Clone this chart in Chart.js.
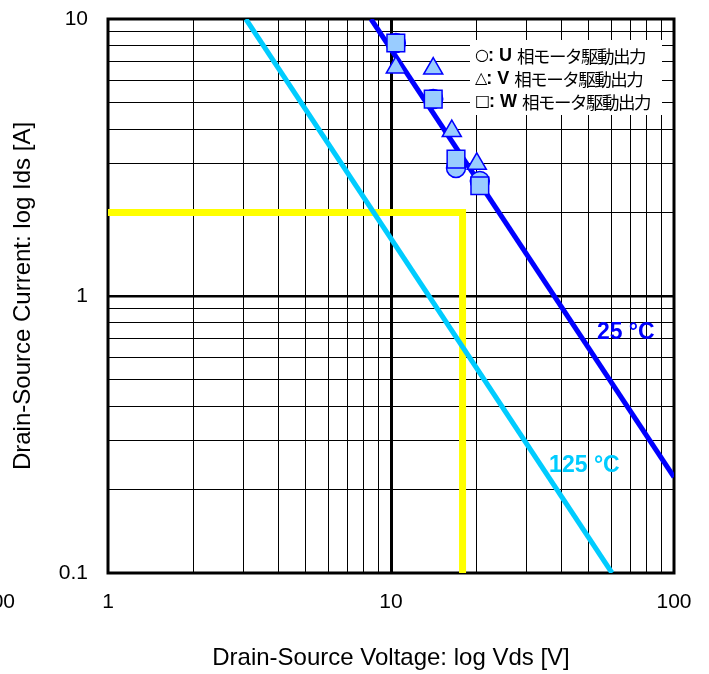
<!DOCTYPE html>
<html>
<head>
<meta charset="utf-8">
<script src="https://cdn.jsdelivr.net/npm/chart.js@4.4.1/dist/chart.umd.min.js"></script>
<style>
  html, body { margin: 0; padding: 0; background: #ffffff; }
  canvas { display: block; }
</style>
</head>
<body>
<canvas id="soa" width="709" height="674"></canvas>
<script>
// Axis decades that carry a label
const xTickLabels = [1, 10, 100];
const yTickLabels = [0.1, 1, 10];

// Measured points per motor-drive output phase: Vds [V], Ids [A]
const uPhaseVds = [10.4, 14.1, 16.97, 20.6];
const uPhaseIds = [8.19, 5.14, 2.90, 2.60];
const vPhaseVds = [10.4, 14.1, 16.4, 20.1];
const vPhaseIds = [6.68, 6.62, 3.94, 3.00];
const wPhaseVds = [10.4, 14.1, 16.97, 20.6];
const wPhaseIds = [8.19, 5.14, 3.12, 2.50];

// Limit lines at 25 °C and 125 °C (end points)
const limit25Vds = [8.50, 100];
const limit25Ids = [10, 0.222];
const limit125Vds = [3.07, 60.4];
const limit125Ids = [10, 0.1];

// Operating point guide: 2 A at 17.9 V
const guideVds = [1, 17.9, 17.9];
const guideIds = [2.0, 2.0, 0.1];

const legendRows = [
  ['○', ': U', '相モータ駆動出力'],
  ['△', ': V', '相モータ駆動出力'],
  ['□', ': W', '相モータ駆動出力']
];

const zip = (xs, ys) => xs.map((x, i) => ({ x: x, y: ys[i] }));

// grid values 1..9 within every labelled decade
function decadeGrid(labels) {
  const out = [];
  for (let i = 0; i < labels.length - 1; i++) {
    for (let k = 1; k <= 9; k++) out.push(Number((labels[i] * k).toPrecision(6)));
  }
  out.push(labels[labels.length - 1]);
  return out;
}
const xGrid = decadeGrid(xTickLabels);
const yGrid = decadeGrid(yTickLabels);

const SANS = '"Liberation Sans", Arial, sans-serif';
const CJK = '"Noto Sans CJK JP", sans-serif';
const SYM = '"DejaVu Sans", sans-serif';

const frame = {
  id: 'frame',
  beforeDatasetsDraw(chart) {
    const a = chart.chartArea, ctx = chart.ctx;
    ctx.save();
    ctx.strokeStyle = '#000';
    ctx.lineWidth = 3;
    ctx.strokeRect(a.left, a.top, a.right - a.left, a.bottom - a.top);
    ctx.restore();
  },
  afterDatasetsDraw(chart) {
    const a = chart.chartArea, ctx = chart.ctx;
    const xs = chart.scales.x, ys = chart.scales.y;
    ctx.save();
    // legend block
    const lx = a.right - 204, ly = a.top + 21;
    ctx.fillStyle = '#fff';
    ctx.fillRect(lx, ly, 192, 75);
    ctx.fillStyle = '#000';
    ctx.textBaseline = 'middle';
    ctx.textAlign = 'left';
    legendRows.forEach((r, i) => {
      let x = lx + 5;
      const y = ly + 16 + i * 23;
      ctx.letterSpacing = '0px';
      ctx.font = '16px ' + SYM;
      ctx.fillText(r[0], x, y);
      x += ctx.measureText(r[0]).width - 1;
      ctx.font = 'bold 18px ' + SANS;
      ctx.fillText(r[1], x, y);
      x += ctx.measureText(r[1] + ' ').width;
      ctx.font = '17.5px ' + CJK;
      ctx.letterSpacing = '-1.5px';
      ctx.fillText(r[2], x, y);
    });
    ctx.letterSpacing = '0px';
    // temperature labels
    ctx.font = 'bold 23px ' + SANS;
    ctx.fillStyle = '#0000ff';
    ctx.fillText('25 °C', xs.getPixelForValue(53.4), ys.getPixelForValue(0.735));
    ctx.fillStyle = '#00ccff';
    ctx.fillText('125 °C', xs.getPixelForValue(36.2), ys.getPixelForValue(0.245));
    // partial label at the left edge
    ctx.fillStyle = '#000';
    ctx.font = '21px ' + SANS;
    ctx.textAlign = 'right';
    ctx.fillText('100', 15, xs.bottom - 72);
    ctx.restore();
  }
};

new Chart(document.getElementById('soa'), {
  type: 'scatter',
  data: {
    datasets: [
      { label: 'W', data: zip(wPhaseVds, wPhaseIds), pointStyle: 'rect', pointRadius: 12.5,
        backgroundColor: '#99ccff', borderColor: '#0000ff', borderWidth: 1.5, order: 0 },
      { label: 'V', data: zip(vPhaseVds, vPhaseIds), pointStyle: 'triangle', pointRadius: 11,
        backgroundColor: '#99ccff', borderColor: '#0000ff', borderWidth: 1.5, order: 1 },
      { label: 'U', data: zip(uPhaseVds, uPhaseIds), pointStyle: 'circle', pointRadius: 9.5,
        backgroundColor: '#99ccff', borderColor: '#0000ff', borderWidth: 1.5, order: 2 },
      { label: '25 °C', data: zip(limit25Vds, limit25Ids), showLine: true, pointRadius: 0,
        borderColor: '#0000ff', borderWidth: 5, order: 3 },
      { label: '125 °C', data: zip(limit125Vds, limit125Ids), showLine: true, pointRadius: 0,
        borderColor: '#00ccff', borderWidth: 5, order: 4 },
      { label: 'guide', data: zip(guideVds, guideIds), showLine: true, pointRadius: 0,
        borderColor: '#ffff00', borderWidth: 7, borderJoinStyle: 'miter', order: 5 }
    ]
  },
  options: {
    responsive: false,
    animation: false,
    devicePixelRatio: 1,
    layout: { padding: { top: 19, right: 35, left: 0, bottom: 0 } },
    plugins: { legend: { display: false }, tooltip: { enabled: false } },
    scales: {
      x: {
        type: 'logarithmic', min: 1, max: 100,
        afterBuildTicks: s => { s.ticks = xGrid.map(v => ({ value: v })); },
        afterFit: s => { s.height = 101; s.paddingLeft = 0; s.paddingRight = 0; },
        ticks: {
          autoSkip: false, maxRotation: 0, padding: 17, color: '#000',
          font: { family: SANS, size: 21 },
          callback: v => xTickLabels.includes(v) ? String(v) : ''
        },
        grid: {
          drawTicks: false, color: '#000',
          lineWidth: c => (c.tick && c.tick.value === 10) ? 3 : 1
        },
        border: { display: false },
        title: {
          display: true, text: 'Drain-Source Voltage: log Vds [V]', color: '#000',
          font: { family: SANS, size: 24 }, padding: { top: 0, bottom: 1 }
        }
      },
      y: {
        type: 'logarithmic', min: 0.1, max: 10,
        afterBuildTicks: s => { s.ticks = yGrid.map(v => ({ value: v })); },
        afterFit: s => { s.width = 108; s.paddingTop = 0; s.paddingBottom = 0; },
        ticks: {
          autoSkip: false, padding: 20, color: '#000',
          font: { family: SANS, size: 21 },
          callback: v => yTickLabels.includes(v) ? String(v) : ''
        },
        grid: {
          drawTicks: false, color: '#000',
          lineWidth: c => (c.tick && c.tick.value === 1) ? 2.5 : 1
        },
        border: { display: false },
        title: {
          display: true, text: 'Drain-Source Current: log Ids [A]', color: '#000',
          font: { family: SANS, size: 24 }, padding: { top: 9, bottom: 0 }
        }
      }
    }
  },
  plugins: [frame]
});
</script>
</body>
</html>
